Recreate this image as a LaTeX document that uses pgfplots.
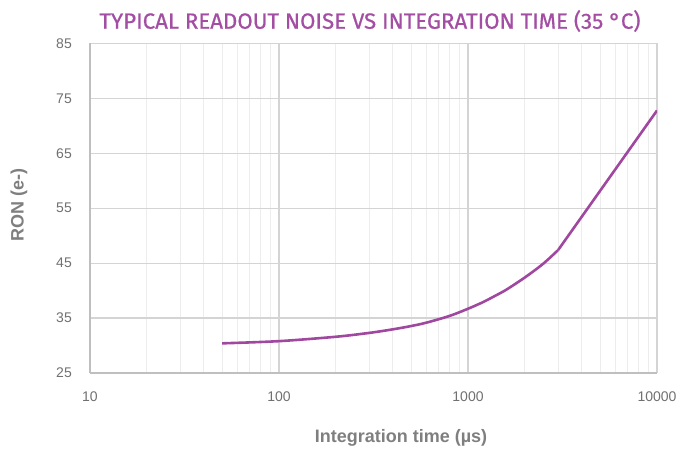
\documentclass[border=0pt]{standalone}
\usepackage{fontspec}
\setmainfont{Liberation Sans}
\newfontfamily\titlefont{Fira Sans}[FakeStretch=0.84, FakeBold=0.6]
\usepackage{pgfplots}
\pgfplotsset{compat=1.18}
\definecolor{curve}{HTML}{A047A0}
\definecolor{titlec}{HTML}{A34DA3}
\definecolor{gridmaj}{HTML}{D4D4D4}
\definecolor{gridmin}{HTML}{EDEDED}
\definecolor{axisc}{HTML}{BFBFBF}
\definecolor{tickc}{HTML}{707070}
\definecolor{labc}{HTML}{7F7F7F}
\begin{document}
\begin{tikzpicture}
\begin{axis}[
  at={(0pt,0pt)}, anchor=south west,
  scale only axis, width=567pt, height=329.5pt,
  xmode=log, xmin=10, xmax=10000, ymin=25, ymax=85,
  xtick={10,100,1000,10000}, xticklabels={10,100,1000,10000},
  ytick={25,35,45,55,65,75,85},
  /pgf/number format/assume math mode=true,
  grid=both,
  major grid style={draw=gridmaj, line width=1.2pt},
  minor grid style={draw=gridmin, line width=1pt},
  major tick length=0pt, minor tick length=0pt,
  axis x line*=bottom, axis y line*=left,
  axis line style={draw=axisc, line width=1.3pt, -},
  yticklabel style={font=\fontsize{14}{14}\selectfont, text=tickc, anchor=east, inner sep=0pt, xshift=-18pt},
  xticklabel style={font=\fontsize{14}{14}\selectfont, text=tickc, anchor=north, inner sep=0pt, yshift=-19pt},
  xlabel={Integration time (µs)},
  ylabel={RON (e-)},
  xlabel style={font=\bfseries\fontsize{18}{18}\selectfont, text=labc, at={(axis description cs:0.5485,0)}, anchor=center, yshift=-65pt},
  ylabel style={font=\bfseries\fontsize{18}{18}\selectfont, text=labc, at={(axis description cs:-0.1252,0.51)}, anchor=center},
]
\addplot[curve, line width=2.6pt, line join=round, smooth, tension=0.5] coordinates {
(50,30.4) (100,30.8) (200,31.6) (300,32.3) (400,32.95) (500,33.55) (600,34.15) (800,35.4) (1000,36.7) (1200,37.9) (1400,39.1) (1600,40.2) (2000,42.4) (2500,44.9) (3000,47.4)
};
\addplot[curve, line width=2.6pt, line join=round] coordinates {
(3000,47.4) (10000,72.8)
};
\end{axis}
\node[text=titlec, anchor=center] at (280pt,352pt) {\resizebox{541pt}{\height}{\titlefont\fontsize{22}{22}\selectfont TYPICAL READOUT NOISE VS INTEGRATION TIME (35 °C)}};
\path[use as bounding box] (-90pt,-82pt) rectangle (603pt,373pt);
\end{tikzpicture}
\end{document}
